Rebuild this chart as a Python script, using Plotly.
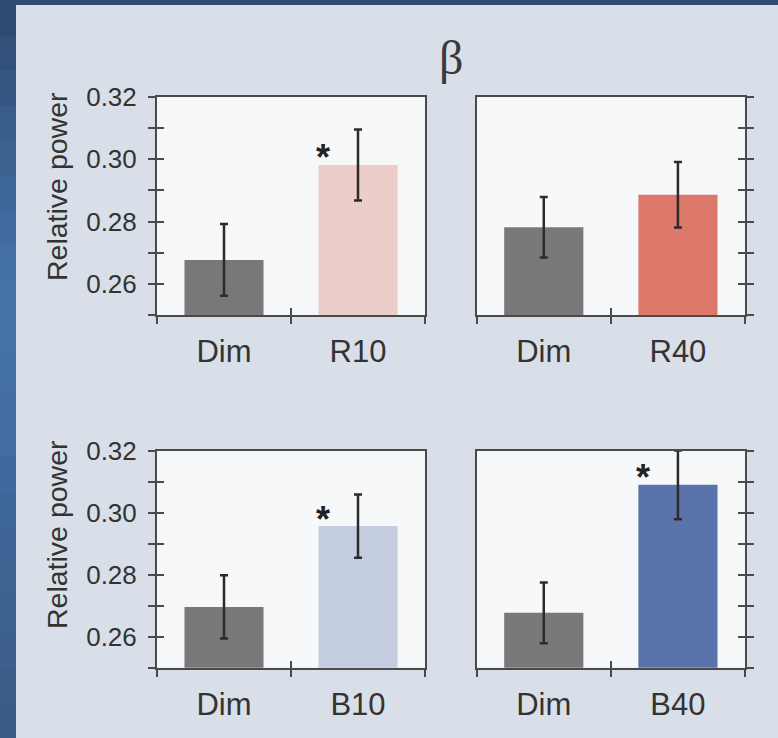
import plotly.graph_objects as go

# ---------------- data ----------------
categories = [["Dim", "R10"], ["Dim", "R40"], ["Dim", "B10"], ["Dim", "B40"]]
values = [[0.2677, 0.2982], [0.2782, 0.2886], [0.2696, 0.2957], [0.2677, 0.3090]]
errors = [[0.0115, 0.0114], [0.0097, 0.0105], [0.0102, 0.0102], [0.0098, 0.0111]]
significant = [[False, True], [False, False], [False, True], [False, True]]
bar_colors = [["#787878", "#edcdc9"], ["#787878", "#dc796b"],
              ["#787878", "#c4cee0"], ["#787878", "#5a73aa"]]
y_tickvals = [0.25, 0.26, 0.27, 0.28, 0.29, 0.30, 0.31, 0.32]
y_ticktext = ["", "0.26", "", "0.28", "", "0.30", "", "0.32"]
title_text = "β"
ylabel_text = "Relative power"

# ---------------- layout geometry ----------------
W, H = 778, 738
px_x = [(157, 425), (476.7, 745)]
px_y = [(97, 315), (450.7, 667.7)]
def xd(a, b): return [a / W, b / W]
def yd(a, b): return [1 - b / H, 1 - a / H]

AX = "#4a4a4a"
TXT = "#333333"
FONT = "Liberation Sans, Arial, sans-serif"

fig = go.Figure()
layout = dict(width=W, height=H, margin=dict(l=0, r=0, t=0, b=0, pad=0, autoexpand=False),
              paper_bgcolor="#d9dfe8", plot_bgcolor="#f6f8fa",
              showlegend=False, font=dict(family=FONT, color=TXT))

shapes = []
# background decoration: dark blue frame (left strip gradient + top strip)
strip_cols = ["#2e4a70", "#31507a", "#355683", "#395d8b", "#3c6292", "#3f6698",
              "#426b9f", "#4470a5", "#4672a8", "#4672a8", "#4570a5", "#446ea2",
              "#436ca0", "#41699d", "#40679a", "#3f6596", "#3e6393", "#3d6190",
              "#3c5f8d", "#3b5d8a", "#3a5b88"]
n = len(strip_cols)
for k, c in enumerate(strip_cols):
    shapes.append(dict(type="rect", xref="paper", yref="paper", layer="below",
                       x0=0, x1=16 / W, y0=1 - (k + 1) / n - 0.004, y1=1 - k / n,
                       fillcolor=c, line=dict(width=0)))
shapes.append(dict(type="rect", xref="paper", yref="paper", layer="below",
                   x0=0, x1=1, y0=1 - 5 / H, y1=1, fillcolor="#2e4a70", line=dict(width=0)))

annotations = []
for i in range(4):
    row, col = divmod(i, 2)
    p = i + 1
    o = i + 5
    xs = "" if p == 1 else str(p)
    ys = xs
    xdom = xd(*px_x[col])
    ydom = yd(*px_y[row])
    fig.add_trace(go.Bar(
        x=categories[i], y=values[i], width=0.59,
        marker=dict(color=bar_colors[i], line=dict(width=0)),
        error_y=dict(type="data", array=errors[i], visible=True,
                     color="#2b2b2b", thickness=2.5, width=4),
        xaxis="x" + xs, yaxis="y" + ys, hoverinfo="skip"))
    # invisible helper trace for overlay axes (inner half of crossing ticks)
    fig.add_trace(go.Scatter(x=[0], y=[values[i][0]], mode="markers",
                             marker=dict(opacity=0), hoverinfo="skip",
                             xaxis="x" + str(o), yaxis="y" + str(o)))
    layout["xaxis" + xs] = dict(
        domain=xdom, anchor="y" + ys, type="category", automargin=False,
        categoryorder="array", categoryarray=categories[i],
        range=[-0.5, 1.5], tickson="boundaries", ticklabelstandoff=8,
        ticks="outside", ticklen=7, tickwidth=2, tickcolor=AX,
        showline=True, linecolor=AX, linewidth=2, mirror=True,
        showgrid=False, zeroline=False, fixedrange=True,
        tickfont=dict(size=31, color=TXT, family=FONT))
    side = "left" if col == 0 else "right"
    layout["yaxis" + ys] = dict(
        domain=ydom, anchor="x" + xs, range=[0.25, 0.32], side=side, automargin=False,
        tickmode="array", tickvals=y_tickvals, ticktext=y_ticktext,
        showticklabels=(col == 0), ticklabelstandoff=6,
        ticks="outside", ticklen=7, tickwidth=2, tickcolor=AX,
        showline=True, linecolor=AX, linewidth=2, mirror=True,
        showgrid=False, zeroline=False, fixedrange=True,
        tickfont=dict(size=26, color=TXT, family=FONT))
    layout["xaxis" + str(o)] = dict(
        overlaying="x" + xs, anchor="y" + str(o), range=[-0.5, 1.5], automargin=False,
        tickmode="array", tickvals=[-0.5, 0.5, 1.5], showticklabels=False,
        ticks="inside", ticklen=7, tickwidth=2, tickcolor=AX,
        showline=False, showgrid=False, zeroline=False, fixedrange=True)
    layout["yaxis" + str(o)] = dict(
        overlaying="y" + ys, anchor="x" + str(o), range=[0.25, 0.32], side=side,
        automargin=False,
        tickmode="array", tickvals=y_tickvals, showticklabels=False,
        ticks="inside", ticklen=7, tickwidth=2, tickcolor=AX,
        showline=False, showgrid=False, zeroline=False, fixedrange=True)
    for j in range(2):
        if significant[i][j]:
            annotations.append(dict(
                xref="x" + xs, yref="y" + ys, x=j, y=values[i][j],
                text="<b>*</b>", showarrow=False, xshift=-35, yshift=7,
                yanchor="middle", font=dict(size=36, color="#222222", family=FONT)))
    if col == 0:
        annotations.append(dict(
            xref="paper", yref="paper", x=57 / W,
            y=1 - (187 if row == 0 else 535) / H,
            text=ylabel_text, textangle=-90, showarrow=False,
            xanchor="center", yanchor="middle",
            font=dict(size=28.5, color=TXT, family=FONT)))

annotations.append(dict(xref="paper", yref="paper", x=451 / W, y=1 - 58 / H,
                        text=title_text, showarrow=False, xanchor="center", yanchor="middle",
                        font=dict(size=48, color="#3a3a3a",
                                  family="Liberation Serif, Times New Roman, serif")))

layout["shapes"] = shapes
layout["annotations"] = annotations
fig.update_layout(**layout)
fig.write_html("out.html")
